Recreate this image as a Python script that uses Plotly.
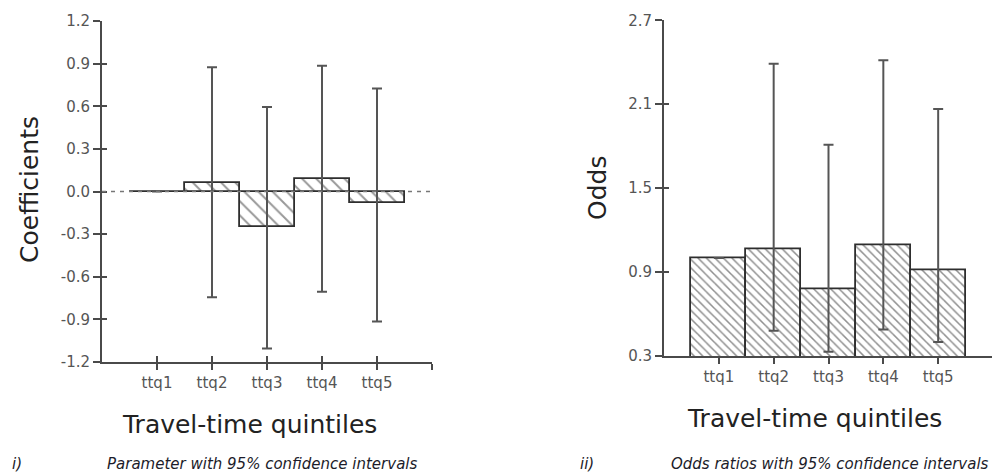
import plotly.graph_objects as go

categories = ["ttq1", "ttq2", "ttq3", "ttq4", "ttq5"]
positions = [1, 2, 3, 4, 5]

# Panel i) coefficients with 95% CI
coef = [0.0, 0.06, -0.25, 0.09, -0.08]
coef_upper = [0.0, 0.875, 0.595, 0.885, 0.725]
coef_lower = [0.0, -0.745, -1.105, -0.705, -0.915]

# Panel ii) odds ratios with 95% CI
odds = [1.0, 1.065, 0.775, 1.095, 0.91]
odds_upper = [1.0, 2.39, 1.81, 2.415, 2.065]
odds_lower = [1.0, 0.48, 0.33, 0.49, 0.40]

coef_ticks = [-1.2, -0.9, -0.6, -0.3, 0.0, 0.3, 0.6, 0.9, 1.2]
coef_ticktext = ["-1.2", "-0.9", "-0.6", "-0.3", "0.0", "0.3", "0.6", "0.9", "1.2"]
odds_ticks = [0.3, 0.9, 1.5, 2.1, 2.7]
odds_ticktext = ["0.3", "0.9", "1.5", "2.1", "2.7"]

coef_plus = [u - v for u, v in zip(coef_upper, coef)]
coef_minus = [v - l for v, l in zip(coef, coef_lower)]
odds_plus = [u - v for u, v in zip(odds_upper, odds)]
odds_minus = [v - l for v, l in zip(odds, odds_lower)]

# page has an 8px body margin: figure sized to fit the window
OFF = 8
W, H = 1000 - OFF, 476 - OFF


def px(x):
    return (x - OFF) / W


def py(y):
    return 1 - (y - OFF) / H


AX = "#4a4a4a"
TICKFONT = dict(family="DejaVu Sans", size=15, color="#555555")
TITLEFONT = dict(family="DejaVu Sans", size=25, color="#222222")

fig = go.Figure()

fig.add_trace(go.Bar(
    x=positions, y=coef, width=1.0,
    marker=dict(color="white", line=dict(color="#2e2e2e", width=1.8),
                pattern=dict(shape="\\", size=10, solidity=0.2, fgcolor="#333333", bgcolor="white")),
    error_y=dict(type="data", symmetric=False, array=coef_plus, arrayminus=coef_minus,
                 color="#555555", thickness=2, width=5),
    xaxis="x", yaxis="y", showlegend=False))

fig.add_trace(go.Bar(
    x=positions, y=odds, width=1.0,
    marker=dict(color="white", line=dict(color="#2e2e2e", width=1.8),
                pattern=dict(shape="\\", size=6, solidity=0.25, fgcolor="#222222", bgcolor="white")),
    error_y=dict(type="data", symmetric=False, array=odds_plus, arrayminus=odds_minus,
                 color="#555555", thickness=2, width=5),
    xaxis="x2", yaxis="y2", showlegend=False))

# invisible traces for overlay (inside-tick) axes
fig.add_trace(go.Scatter(x=[None], y=[None], xaxis="x3", yaxis="y3", showlegend=False, hoverinfo="skip"))
fig.add_trace(go.Scatter(x=[None], y=[None], xaxis="x4", yaxis="y4", showlegend=False, hoverinfo="skip"))

# zero reference line (panel i)
fig.add_shape(type="line", xref="x domain", yref="y", x0=0, x1=1, y0=0, y1=0,
              line=dict(color="#777777", width=1.5, dash="4px,5px"), layer="above")

xt = positions + [6]
xtt = categories + [""]

common_x = dict(range=[0, 6], tickmode="array", tickvals=xt, ticktext=xtt, showgrid=False,
                zeroline=False, showline=True, linecolor=AX, linewidth=2, ticks="outside",
                ticklen=6, tickwidth=2, tickcolor=AX, tickfont=TICKFONT, automargin=False)
common_y = dict(tickmode="array", showgrid=False, zeroline=False, showline=True, linecolor=AX,
                linewidth=2, ticks="outside", ticklen=7, tickwidth=2, tickcolor=AX,
                tickfont=TICKFONT, automargin=False)
ov = dict(showticklabels=False, showgrid=False, zeroline=False, showline=False,
          ticks="inside", tickwidth=2, tickcolor=AX, automargin=False, tickmode="array")

fig.update_layout(
    width=W, height=H, margin=dict(l=0, r=0, t=0, b=0),
    paper_bgcolor="white", plot_bgcolor="white", bargap=0,
    xaxis=dict(domain=[px(102), px(432)], anchor="y", **common_x),
    yaxis=dict(domain=[py(362), py(21)], anchor="x", range=[-1.2, 1.2],
               tickvals=coef_ticks, ticktext=coef_ticktext, **common_y),
    xaxis2=dict(domain=[px(664), px(993)], anchor="y2", **common_x),
    yaxis2=dict(domain=[py(356), py(20.3)], anchor="x2", range=[0.3, 2.7],
                tickvals=odds_ticks, ticktext=odds_ticktext, **common_y),
    xaxis3=dict(overlaying="x", anchor="y3", range=[0, 6], tickvals=xt, ticklen=6, **ov),
    yaxis3=dict(overlaying="y", anchor="x3", range=[-1.2, 1.2], tickvals=coef_ticks, ticklen=5, **ov),
    xaxis4=dict(overlaying="x2", anchor="y4", range=[0, 6], tickvals=[6], ticklen=6, **ov),
    yaxis4=dict(overlaying="y2", anchor="x4", range=[0.3, 2.7], tickvals=odds_ticks, ticklen=5, **ov),
)


def ann(text, x, y, font, angle=0):
    fig.add_annotation(text=text, x=px(x), y=py(y), xref="paper", yref="paper",
                       showarrow=False, font=font, textangle=angle, xanchor="center", yanchor="middle")


ann("Coefficients", 30, 190, TITLEFONT, angle=-90)
ann("Travel-time quintiles", 249, 424, TITLEFONT)
ann("Odds", 598, 188, TITLEFONT, angle=-90)
ann("Travel-time quintiles", 814, 418, TITLEFONT)

CAPFONT = dict(family="DejaVu Sans", size=15, color="#1c1c2a")
ann("<i>i)</i>", 17, 464, CAPFONT)
ann("<i>Parameter with 95% confidence intervals</i>", 262, 464, CAPFONT)
ann("<i>ii)</i>", 587, 464, CAPFONT)
ann("<i>Odds ratios with 95% confidence intervals</i>", 830, 464, CAPFONT)

fig.write_html("out.html")
